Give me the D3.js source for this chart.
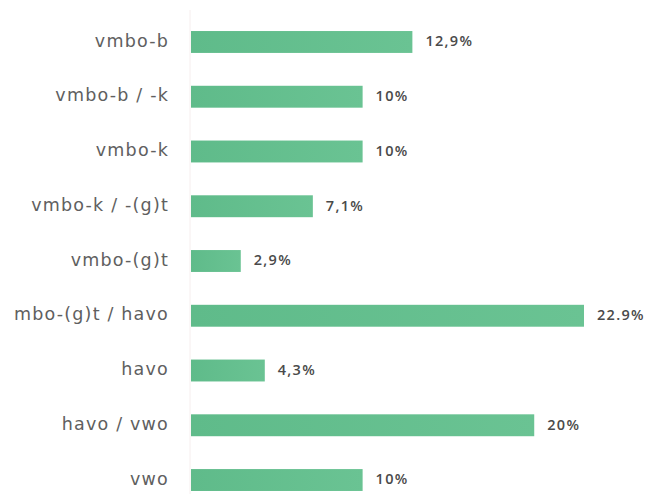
<!DOCTYPE html>
<html>
<head>
<meta charset="utf-8">
<script src="https://cdn.jsdelivr.net/npm/d3@7"></script>
<style>
body { margin: 0; background: #fff; }
</style>
</head>
<body>
<div class="svg-container"></div>
<script>
var categories = ["vmbo-b", "vmbo-b / -k", "vmbo-k", "vmbo-k / -(g)t", "vmbo-(g)t",
    "mbo-(g)t / havo", "havo", "havo / vwo", "vwo"];
var values = [12.9, 10, 10, 7.1, 2.9, 22.9, 4.3, 20, 10];
var valueLabels = ["12,9%", "10%", "10%", "7,1%", "2,9%", "22.9%", "4,3%", "20%", "10%"];

var width = 667;
var height = 494;

var svg = d3.select(".svg-container").append("svg")
    .attr("width", width)
    .attr("height", height);

var x = d3.scaleLinear()
    .domain([0, 22.9])
    .range([191, 584]);

var y = d3.scaleBand()
    .domain(categories)
    .range([14.6, 507.4])
    .paddingInner(0.6)
    .paddingOuter(0.3);

// faint baseline
svg.append("line")
    .attr("x1", x(0) - 1)
    .attr("x2", x(0) - 1)
    .attr("y1", 10)
    .attr("y2", 494)
    .style("stroke", "#f6eeee")
    .style("stroke-width", 1);

var grad = svg.append("defs").append("linearGradient")
    .attr("id", "barGrad")
    .attr("x1", "0").attr("x2", "1").attr("y1", "0").attr("y2", "0");
grad.append("stop").attr("offset", "0%").attr("stop-color", "#5fbb8a");
grad.append("stop").attr("offset", "100%").attr("stop-color", "#6ac393");

// bars
svg.selectAll(".bar")
    .data(categories)
    .enter().append("rect")
    .attr("class", "bar")
    .attr("x", x(0))
    .attr("y", function(d) { return y(d); })
    .attr("width", function(d, i) { return x(values[i]) - x(0); })
    .attr("height", y.bandwidth())
    .style("fill", "url(#barGrad)");

// category labels
svg.selectAll(".cat")
    .data(categories)
    .enter().append("text")
    .attr("class", "cat")
    .attr("x", 169)
    .attr("y", function(d) { return y(d) + y.bandwidth() / 2; })
    .attr("dy", "0.27em")
    .style("text-anchor", "end")
    .style("font-family", "'DejaVu Sans', sans-serif")
    .style("font-size", "17.5px")
    .style("letter-spacing", "1.2px")
    .style("fill", "#606060")
    .text(function(d) { return d; });

// value labels
svg.selectAll(".val")
    .data(categories)
    .enter().append("text")
    .attr("class", "val")
    .attr("x", function(d, i) { return x(values[i]) + 13; })
    .attr("y", function(d) { return y(d) + y.bandwidth() / 2; })
    .attr("dy", "0.3em")
    .style("font-family", "'Open Sans', sans-serif")
    .style("font-size", "14.5px")
    .style("font-weight", "600")
    .style("letter-spacing", "1.3px")
    .style("fill", "#4a4a4a")
    .text(function(d, i) { return valueLabels[i]; });
</script>
</body>
</html>
